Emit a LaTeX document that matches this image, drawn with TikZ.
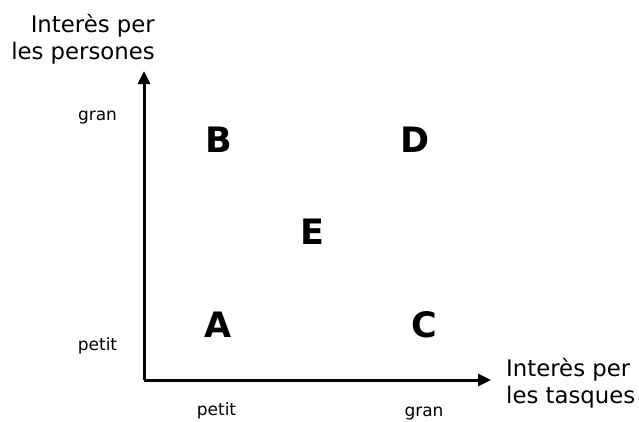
\documentclass[tikz,border=0pt]{standalone}
\usepackage{fontspec}
\setmainfont{DejaVu Sans}
\usetikzlibrary{arrows.meta,positioning}

\begin{document}
\begin{tikzpicture}[
  x=1pt,y=-1pt,
  axis/.style={-{Triangle[length=13pt,width=12pt]},line width=3pt},
  ttl/.style={font=\fontsize{22.8}{27}\selectfont,inner sep=0pt},
  tick/.style={font=\fontsize{17}{19}\selectfont,inner sep=0pt},
  quad/.style={font=\fontsize{35}{37}\selectfont\bfseries,inner sep=0pt}
]
  \useasboundingbox (0,0) rectangle (639,421);
  % ---------------- AXES ----------------
  \coordinate (o) at (144,380);
  \coordinate (ytop) at (144,71);
  \coordinate (xend) at (491,380);
  \draw[axis] (o) -- (ytop);
  \draw[axis] (o) -- (xend);
  % ---------------- TITLES ----------------
  \node[ttl,align=right,anchor=east] (ylab) at (155,39.5) {Interès per\\les persones};
  \node[ttl,align=left,anchor=west] (xlab) at (506,383) {Interès per\\les tasques};
  % ---------------- TICKS ----------------
  \node[tick] (ygran) at (97.5,118) {gran};
  \node[tick] (ypetit) at (97.5,346) {petit};
  \node[tick] (xpetit) at (216.5,411) {petit};
  \node[tick] (xgran) at (424,413) {gran};
  % ---------------- QUADRANTS ----------------
  \node[quad] (qB) at (218.5,140) {B};
  \node[quad] (qD) at (415.5,140) {D};
  \node[quad] (qE) at (312,232) {E};
  \node[quad] (qA) at (218.5,325) {A};
  \node[quad] (qC) at (424,325) {C};
\end{tikzpicture}
\end{document}
